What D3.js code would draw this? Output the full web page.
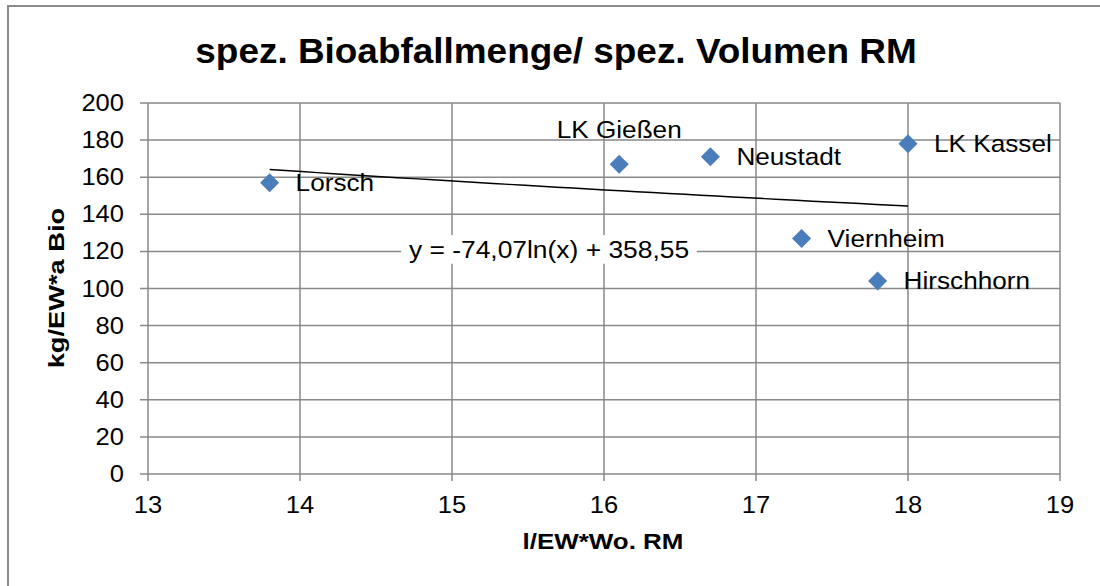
<!DOCTYPE html>
<html>
<head>
<meta charset="utf-8">
<script src="https://cdn.jsdelivr.net/npm/d3@7"></script>
<style>
  html, body { margin: 0; padding: 0; background: #fff; }
  svg { display: block; font-family: "Liberation Sans", Arial, sans-serif; }
</style>
</head>
<body>
<div id="chart"></div>
<script>
const svgWidth = 1100;
const svgHeight = 586;

// data
const towns = ["Lorsch", "LK Gießen", "Neustadt", "Viernheim", "Hirschhorn", "LK Kassel"];
const volume = [13.8, 16.1, 16.7, 17.3, 17.8, 18.0];   // l/EW*Wo. RM
const bioWaste = [157, 167, 171, 127, 104, 178];       // kg/EW*a Bio
const labelSide = ["right", "top", "right", "right", "right", "right"];

const xTicks = [13, 14, 15, 16, 17, 18, 19];
const yTicks = [0, 20, 40, 60, 80, 100, 120, 140, 160, 180, 200];

const titleText = "spez. Bioabfallmenge/ spez. Volumen RM";
const xTitle = "l/EW*Wo. RM";
const yTitle = "kg/EW*a Bio";

const plotLeft = 148;
const plotRight = 1060;
const plotTop = 103;
const plotBottom = 474;

const gridColor = "#898989";
const markerColor = "#4a7ebb";

const svg = d3.select("#chart")
  .append("svg")
  .attr("width", svgWidth)
  .attr("height", svgHeight);

const xScale = d3.scaleLinear().domain([13, 19]).range([plotLeft, plotRight]);
const yScale = d3.scaleLinear().domain([0, 200]).range([plotBottom, plotTop]);

// text in the source image is a bit stretched sideways, so each label gets a scale factor
function addText(parent, str, o) {
  const g = parent.append("g")
    .attr("transform", `translate(${o.x},${o.y}) rotate(${o.rotate || 0}) scale(${o.sx || 1},1)`);
  const t = g.append("text")
    .attr("text-anchor", o.anchor || "start")
    .attr("font-size", o.size + "px")
    .attr("font-weight", o.weight || "normal")
    .attr("fill", "#000")
    .attr("dy", o.dy || 0)
    .text(str);
  return { g, t };
}

// chart area border (runs off the right and bottom of the frame)
svg.append("rect")
  .attr("x", 8).attr("y", 6)
  .attr("width", 1110).attr("height", 600)
  .attr("fill", "none")
  .attr("stroke", "#8c8c8c")
  .attr("stroke-width", 2);

addText(svg, titleText, { x: 556, y: 63, size: 35, weight: "bold", anchor: "middle", sx: 1.055 });

// grid
const grid = svg.append("g");
grid.selectAll("line.h")
  .data(yTicks)
  .join("line")
  .attr("class", "h")
  .attr("x1", plotLeft - 8).attr("x2", plotRight)
  .attr("y1", (d) => yScale(d)).attr("y2", (d) => yScale(d))
  .attr("stroke", gridColor).attr("stroke-width", 1.5);

grid.selectAll("line.v")
  .data(xTicks)
  .join("line")
  .attr("class", "v")
  .attr("x1", (d) => xScale(d)).attr("x2", (d) => xScale(d))
  .attr("y1", plotTop).attr("y2", plotBottom + 7)
  .attr("stroke", gridColor).attr("stroke-width", 1.5);

// tick labels
yTicks.forEach((d) => {
  addText(svg, d, { x: 124, y: yScale(d), size: 23, anchor: "end", dy: "0.35em", sx: 1.11 });
});
xTicks.forEach((d) => {
  addText(svg, d, { x: xScale(d), y: 513, size: 23, anchor: "middle", sx: 1.11 });
});

// axis titles
addText(svg, xTitle, { x: 603, y: 549, size: 22, weight: "bold", anchor: "middle", sx: 1.18 });
addText(svg, yTitle, { x: 64, y: 288, size: 22, weight: "bold", anchor: "middle", rotate: -90, sx: 1.24 });

// logarithmic trendline, fitted from the points like the spreadsheet does
const lnX = volume.map((v) => Math.log(v));
const meanLn = d3.mean(lnX);
const meanY = d3.mean(bioWaste);
const slope = d3.sum(lnX, (l, i) => (l - meanLn) * (bioWaste[i] - meanY)) /
  d3.sum(lnX, (l) => (l - meanLn) ** 2);
const intercept = meanY - slope * meanLn;

const [xMin, xMax] = d3.extent(volume);
const trendX = d3.range(0, 41).map((i) => xMin + (xMax - xMin) * i / 40);

svg.append("path")
  .datum(trendX)
  .attr("fill", "none")
  .attr("stroke", "#000")
  .attr("stroke-width", 1.5)
  .attr("d", d3.line()
    .x((d) => xScale(d))
    .y((d) => yScale(slope * Math.log(d) + intercept)));

// equation label with white box
const fmt = (v) => v.toFixed(2).replace(".", ",");
const eqText = `y = ${fmt(slope)}ln(x) + ${fmt(intercept)}`;
const eq = addText(svg, eqText, { x: 549, y: 258, size: 24, anchor: "middle", sx: 1.1 });
const bb = eq.t.node().getBBox();
eq.g.insert("rect", "text")
  .attr("x", bb.x - 7)
  .attr("y", bb.y - 1)
  .attr("width", bb.width + 14)
  .attr("height", bb.height + 2)
  .attr("fill", "#fff");

// markers
const points = towns.map((name, i) => ({ name, x: volume[i], y: bioWaste[i], side: labelSide[i] }));

svg.selectAll("path.marker")
  .data(points)
  .join("path")
  .attr("class", "marker")
  .attr("d", d3.symbol(d3.symbolSquare, 182)())
  .attr("transform", (d) => `translate(${xScale(d.x)},${yScale(d.y)}) rotate(45)`)
  .attr("fill", markerColor);

// data labels
points.forEach((d) => {
  const px = xScale(d.x);
  const py = yScale(d.y);
  if (d.side === "top") {
    addText(svg, d.name, { x: px, y: py - 26, size: 24, anchor: "middle", sx: 1.09 });
  } else {
    addText(svg, d.name, { x: px + 26, y: py, size: 24, anchor: "start", dy: "0.35em", sx: 1.09 });
  }
});
</script>
</body>
</html>
